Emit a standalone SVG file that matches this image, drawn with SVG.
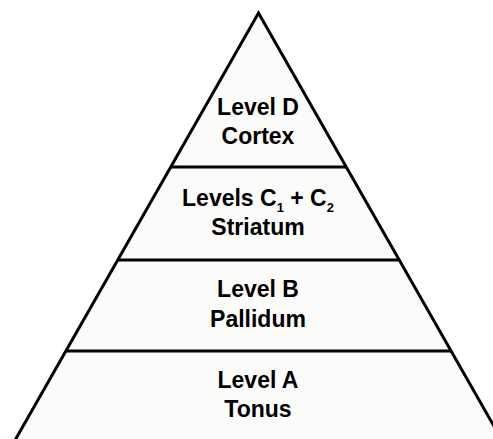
<svg xmlns="http://www.w3.org/2000/svg" width="493" height="439" viewBox="0 0 493 439">
<style>
.t{font-family:"Liberation Sans",Arial,sans-serif;font-weight:bold;font-size:23px;fill:#000;text-anchor:middle}
.s{font-size:13px}
.ln{stroke:#000;stroke-width:3;fill:none}
</style>
<rect width="493" height="439" fill="#fff"/>
<g id="pyramid">
<polygon points="258.5,13 504.7,445 12.3,445" fill="#fbfbf9" stroke="#000" stroke-width="3" stroke-linejoin="miter"/>
</g>
<g id="connectors">
<line class="ln" x1="170.5" y1="167" x2="346.5" y2="167"/>
<line class="ln" x1="117" y1="260" x2="400" y2="260"/>
<line class="ln" x1="65" y1="351" x2="452" y2="351"/>
</g>
<g id="levelD">
<text class="t" x="258" y="115">Level D</text>
<text class="t" x="258" y="144">Cortex</text>
</g>
<g id="levelC">
<text class="t" x="258" y="206">Levels C<tspan class="s" dy="6">1</tspan><tspan dy="-6"> + C</tspan><tspan class="s" dy="6">2</tspan></text>
<text class="t" x="258" y="235">Striatum</text>
</g>
<g id="levelB">
<text class="t" x="258" y="297">Level B</text>
<text class="t" x="258" y="327">Pallidum</text>
</g>
<g id="levelA">
<text class="t" x="258" y="388">Level A</text>
<text class="t" x="258" y="417">Tonus</text>
</g>
</svg>
